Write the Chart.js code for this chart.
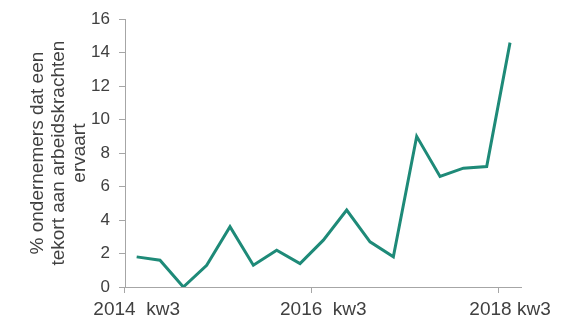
<!DOCTYPE html>
<html>
<head>
<meta charset="utf-8">
<script src="https://cdn.jsdelivr.net/npm/chart.js@4/dist/chart.umd.min.js"></script>
<style>
  html, body { margin: 0; padding: 0; background: #ffffff; }
  #wrap { width: 565px; height: 319px; }
</style>
</head>
<body>
<div id="wrap"><canvas id="c" width="565" height="319"></canvas></div>
<script>
const categories = [
  "2014  kw3", "2014 kw4", "2015 kw1", "2015 kw2", "2015 kw3", "2015 kw4",
  "2016 kw1", "2016 kw2", "2016  kw3", "2016 kw4", "2017 kw1", "2017 kw2",
  "2017 kw3", "2017 kw4", "2018 kw1", "2018 kw2", "2018 kw3"
];
const shortageValues = [1.8, 1.6, 0.0, 1.3, 3.6, 1.3, 2.2, 1.4, 2.8, 4.6, 2.7, 1.8, 9.0, 6.6, 7.1, 7.2, 14.6];
const shownLabelIndexes = [0, 8, 16];
const yTicks = [0, 2, 4, 6, 8, 10, 12, 14, 16];
const yTitleLines = ["% ondernemers dat een", "tekort aan arbeidskrachten", "ervaart"];

const textColor = '#404040';
const axisColor = '#a6a6a6';
const family = "'Liberation Sans', Arial, sans-serif";
// target plot area (layout only)
const target = { left: 125, top: 15, right: 521.7, bottom: 287 };

const chart = new Chart(document.getElementById('c'), {
  type: 'line',
  data: {
    labels: categories,
    datasets: [{
      data: shortageValues,
      borderColor: '#1e8a78',
      borderWidth: 3,
      pointRadius: 0,
      tension: 0,
      fill: false
    }]
  },
  options: {
    responsive: false,
    animation: false,
    layout: { padding: { left: 22, right: 43, top: 5, bottom: 0 } },
    plugins: { legend: { display: false }, tooltip: { enabled: false } },
    scales: {
      x: {
        type: 'category',
        offset: true,
        border: { display: true, color: axisColor, width: 1 },
        grid: {
          offset: true,
          drawOnChartArea: false,
          drawTicks: true,
          tickLength: 6,
          tickColor: ctx => (ctx.index % 8 === 0) ? axisColor : 'rgba(0,0,0,0)'
        },
        ticks: {
          autoSkip: false,
          maxRotation: 0,
          minRotation: 0,
          color: textColor,
          font: { family: family, size: 19, lineHeight: 1.0 },
          padding: 7,
          callback: (v, i) => shownLabelIndexes.includes(i) ? categories[i] : ''
        }
      },
      y: {
        min: yTicks[0],
        max: yTicks[yTicks.length - 1],
        border: { display: true, color: axisColor, width: 1 },
        grid: {
          drawOnChartArea: false,
          drawTicks: true,
          tickLength: 6,
          tickColor: axisColor
        },
        afterBuildTicks: axis => { axis.ticks = yTicks.map(v => ({ value: v })); },
        ticks: {
          color: textColor,
          font: { family: family, size: 17 },
          padding: 9
        },
        title: {
          display: true,
          text: yTitleLines,
          color: textColor,
          font: { family: family, size: 19, lineHeight: 1.1 },
          padding: { top: 5.5, bottom: 0 }
        }
      }
    }
  }
});

// adjust paddings so the plot area lands where the reference has it
for (let k = 0; k < 4; k++) {
  const a = chart.chartArea;
  const lp = chart.options.layout.padding;
  const tp = chart.options.scales.y.title.padding;
  tp.bottom -= (a.left - target.left);
  lp.top -= (a.top - target.top);
  lp.right += (a.right - target.right);
  lp.bottom += (a.bottom - target.bottom);
  chart.update('none');
}
</script>
</body>
</html>
